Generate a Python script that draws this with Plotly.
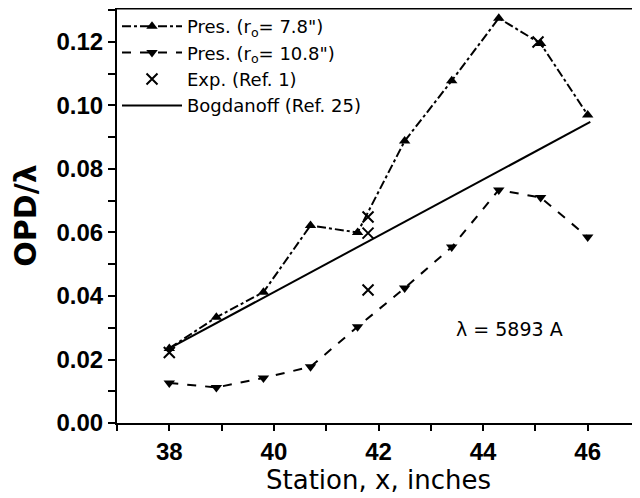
import plotly.graph_objects as go

# Pres. (r0 = 7.8")
x_pres78 = [38.0, 38.9, 39.8, 40.7, 41.6, 42.5, 43.4, 44.3, 45.1, 46.0]
y_pres78 = [0.0235, 0.0333, 0.0412, 0.0622, 0.0600, 0.0888, 0.1078, 0.1275, 0.1195, 0.0970]

# Pres. (r0 = 10.8")
x_pres108 = [38.0, 38.9, 39.8, 40.7, 41.6, 42.5, 43.4, 44.3, 45.1, 46.0]
y_pres108 = [0.0126, 0.0112, 0.0142, 0.0177, 0.0303, 0.0425, 0.0554, 0.0734, 0.0710, 0.0586]

# Exp. (Ref. 1)
x_exp = [38.0, 41.8, 41.8, 41.8, 45.05]
y_exp = [0.0222, 0.0649, 0.0598, 0.0419, 0.1200]

# Bogdanoff (Ref. 25)
x_bog = [38.0, 46.05]
y_bog = [0.0235, 0.0948]

fig = go.Figure()

fig.add_trace(go.Scatter(
    x=x_pres78, y=y_pres78, mode="lines+markers",
    name='Pres. (r<sub>o</sub>= 7.8")',
    line=dict(color="black", width=2, dash="dashdot"),
    marker=dict(symbol="triangle-up", size=10, color="black"),
))
fig.add_trace(go.Scatter(
    x=x_pres108, y=y_pres108, mode="lines+markers",
    name='Pres. (r<sub>o</sub>= 10.8")',
    line=dict(color="black", width=2, dash="dash"),
    marker=dict(symbol="triangle-down", size=10, color="black"),
))
fig.add_trace(go.Scatter(
    x=x_exp, y=y_exp, mode="markers",
    name="Exp. (Ref. 1)",
    marker=dict(symbol="x-thin", size=11, color="black",
                line=dict(color="black", width=2)),
))
fig.add_trace(go.Scatter(
    x=x_bog, y=y_bog, mode="lines",
    name="Bogdanoff (Ref. 25)",
    line=dict(color="black", width=2),
))

fig.add_annotation(
    x=44.5, y=0.0295, xref="x", yref="y", showarrow=False,
    text="λ = 5893 A", font=dict(family="DejaVu Sans", size=19, color="black"),
)

# thick top frame line and partial right edge
fig.add_shape(type="line", xref="paper", yref="paper", x0=0, x1=1, y0=1, y1=1,
              line=dict(color="black", width=3))
fig.add_shape(type="line", xref="paper", yref="paper", x0=0.997, x1=0.997, y0=-0.015, y1=0.5,
              line=dict(color="black", width=2))

# page body adds an 8px offset, so margins are shifted to compensate
fig.update_layout(
    width=640, height=498,
    margin=dict(l=109, r=8, t=0, b=83),
    paper_bgcolor="white", plot_bgcolor="white",
    font=dict(family="DejaVu Sans", color="black"),
    showlegend=True,
    legend=dict(
        x=0.0, y=1.0, xanchor="left", yanchor="top",
        bgcolor="rgba(0,0,0,0)", font=dict(size=18, family="DejaVu Sans"),
        tracegroupgap=0, itemwidth=60,
    ),
    xaxis=dict(
        range=[37, 47], dtick=2, tick0=38, automargin=False,
        showgrid=False, zeroline=False,
        showline=True, linecolor="black", linewidth=2,
        ticks="outside", ticklen=6, tickwidth=2, tickcolor="black",
        minor=dict(dtick=1, tick0=37, ticks="outside", ticklen=6, tickwidth=2, tickcolor="black"),
        tickfont=dict(family="Liberation Sans", size=24, weight="bold"),
        title=dict(text="Station, x, inches", font=dict(family="DejaVu Sans", size=26), standoff=0),
    ),
    yaxis=dict(
        range=[0, 0.1307], dtick=0.02, tick0=0, tickformat=".2f", automargin=False,
        showgrid=False, zeroline=False,
        showline=True, linecolor="black", linewidth=2,
        ticks="outside", ticklen=7, tickwidth=2, tickcolor="black",
        minor=dict(dtick=0.01, tick0=0, ticks="outside", ticklen=7, tickwidth=2, tickcolor="black"),
        tickfont=dict(family="Liberation Sans", size=24, weight="bold"),
        title=dict(text="OPD/λ", font=dict(family="DejaVu Sans", size=30, weight="bold"), standoff=12),
    ),
)

fig.write_html("out.html")
